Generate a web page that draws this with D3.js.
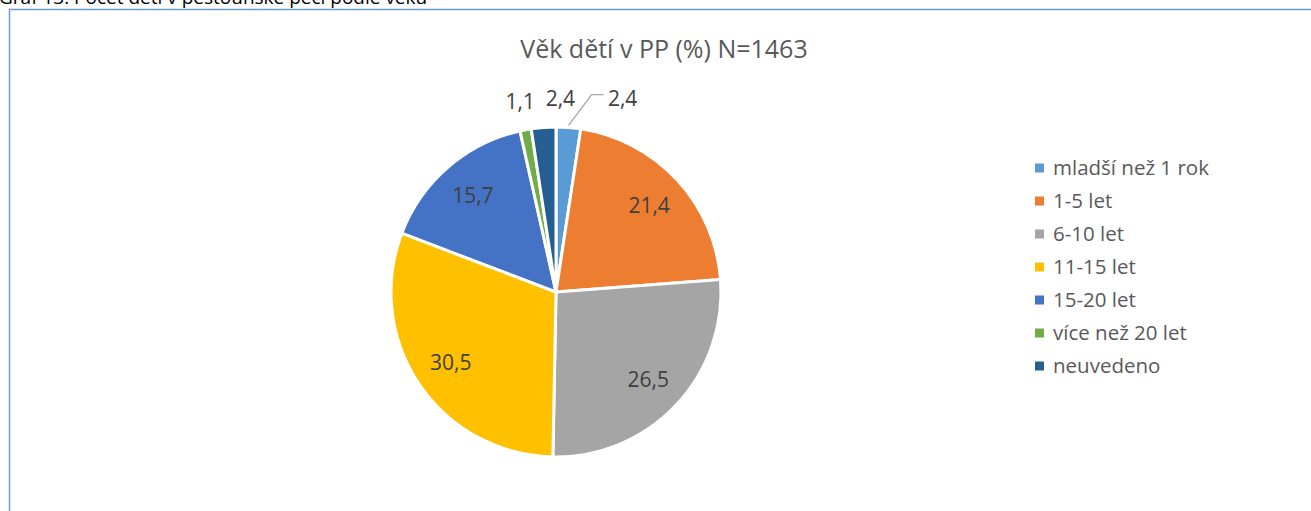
<!DOCTYPE html>
<html lang="cs">
<head>
    <meta charset="UTF-8">
    <title>Věk dětí v PP</title>
    <script src="https://d3js.org/d3.v7.min.js"></script>
    <style>
        body { margin: 0; background: #fff; }
        svg text { font-family: "Open Sans", sans-serif; }
    </style>
</head>
<body>
<svg width="1311" height="511"></svg>
<script>
    // data
    var categories = ["mladší než 1 rok", "1-5 let", "6-10 let", "11-15 let", "15-20 let", "více než 20 let", "neuvedeno"];
    var values = [2.4, 21.4, 26.5, 30.5, 15.7, 1.1, 2.4];
    var colors = ["#5b9bd5", "#ed7d31", "#a5a5a5", "#ffc000", "#4472c4", "#70ad47", "#255e91"];

    var svg = d3.select("svg"),
        width = +svg.attr("width"),
        height = +svg.attr("height");

    var cx = 556, cy = 292, r = 165;

    // caption above the frame (cut off by the top of the page, as in the source)
    svg.append("text")
        .attr("x", -1)
        .attr("y", 4)
        .attr("font-size", 19)
        .attr("fill", "#000")
        .text("Graf 13: Počet dětí v pěstounské péči podle věku");

    // chart frame
    svg.append("path")
        .attr("d", "M9.5," + (height + 5) + "V9.5H" + (width + 5))
        .attr("fill", "none")
        .attr("stroke", "#6a9fd8")
        .attr("stroke-width", 1.5);

    svg.append("text")
        .attr("x", 664)
        .attr("y", 58)
        .attr("text-anchor", "middle")
        .attr("font-size", 25)
        .attr("fill", "#595959")
        .text("Věk dětí v PP (%) N=1463");

    var pie = d3.pie().sort(null).value(function(d) { return d; });
    var arcs = pie(values);

    var arc = d3.arc().innerRadius(0).outerRadius(r);
    var labelArc = d3.arc().innerRadius(r * 0.77).outerRadius(r * 0.77);
    var outerArc = d3.arc().innerRadius(r + 29).outerRadius(r + 29);

    var g = svg.append("g").attr("transform", "translate(" + cx + "," + cy + ")");

    g.selectAll("path.slice")
        .data(arcs)
        .enter().append("path")
        .attr("class", "slice")
        .attr("d", arc)
        .attr("fill", function(d, i) { return colors[i]; })
        .attr("stroke", "#fff")
        .attr("stroke-width", 3)
        .attr("stroke-linejoin", "round");

    function fmt(v) { return String(v).replace(".", ","); }

    // small slices get their label outside, the first one with a leader line
    var nudge = [[52, 0], [0, 0], [0, 0], [0, 0], [0, 0], [0, 0], [19, 0]];

    arcs.forEach(function(d, i) {
        var small = d.data < 5;
        var p = small ? outerArc.centroid(d) : labelArc.centroid(d);
        p = [p[0] + nudge[i][0], p[1] + nudge[i][1]];
        if (i === 0) {
            var edge = d3.arc().innerRadius(r + 2).outerRadius(r + 2).centroid(d);
            g.append("polyline")
                .attr("points", [edge, [p[0] - 31, p[1] - 4], [p[0] - 19, p[1] - 4]].map(function(q) { return q.join(","); }).join(" "))
                .attr("fill", "none")
                .attr("stroke", "#a6a6a6")
                .attr("stroke-width", 1.3);
        }
        g.append("text")
            .attr("x", p[0])
            .attr("y", p[1])
            .attr("dy", "0.35em")
            .attr("text-anchor", "middle")
            .attr("font-size", 21)
            .attr("fill", "#404040")
            .text(fmt(d.data));
    });

    // legend
    var legend = svg.append("g").attr("transform", "translate(1035,168)");
    var item = legend.selectAll("g")
        .data(categories)
        .enter().append("g")
        .attr("transform", function(d, i) { return "translate(0," + (i * 33) + ")"; });

    item.append("rect")
        .attr("x", 0)
        .attr("y", -4.5)
        .attr("width", 9)
        .attr("height", 9)
        .attr("fill", function(d, i) { return colors[i]; });

    item.append("text")
        .attr("x", 18)
        .attr("dy", "0.35em")
        .attr("font-size", 20.5)
        .attr("fill", "#595959")
        .text(function(d) { return d; });
</script>
</body>
</html>
